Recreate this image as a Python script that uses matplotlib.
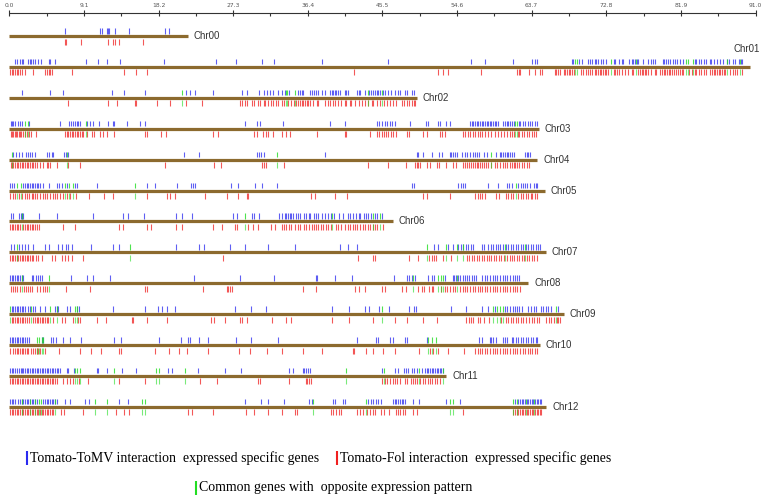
import numpy as np
import matplotlib
matplotlib.use("Agg")
import matplotlib.pyplot as plt

# ------------------------------------------------------------
# Data (positions in Mb)
# ------------------------------------------------------------
chrom_names = ["Chr00", "Chr01", "Chr02", "Chr03", "Chr04", "Chr05", "Chr06",
               "Chr07", "Chr08", "Chr09", "Chr10", "Chr11", "Chr12"]
chrom_lengths = [21.8, 90.3, 49.7, 64.6, 64.4, 65.3, 46.8, 65.4, 63.3, 67.6, 64.7, 53.3, 65.5]

ruler_ticks = [0.0, 9.1, 18.2, 27.3, 36.4, 45.5, 54.6, 63.7, 72.8, 81.9, 91.0]
ruler_labels = ["0.0", "9.1", "18.2", "27.3", "36.4", "45.5", "54.6", "63.7", "72.8", "81.9", "91.0"]

blue_00 = [6.8, 11.1, 11.3, 11.9, 12.0, 12.2, 12.9, 14.6, 19.0, 19.5]
red_00 = [6.8, 6.9, 8.7, 12.0, 12.7, 12.9, 13.4, 16.3]
green_00 = []

blue_01 = [0.7, 0.9, 1.3, 1.5, 1.7, 2.3, 2.5, 2.7, 2.9, 3.1, 3.5, 3.9, 4.8, 5.0, 5.6, 9.4, 10.8, 11.9,
           13.5, 18.9, 25.2, 27.7, 30.8, 32.3, 38.1, 46.2, 56.3, 58.0, 61.4, 63.8, 64.1, 64.3, 68.6,
           68.8, 69.5, 69.8, 70.6, 70.8, 71.1, 71.4, 71.6, 71.8, 72.2, 72.4, 72.8, 73.7, 73.9, 74.3,
           74.7, 74.9, 75.6, 75.9, 76.1, 76.3, 76.5, 76.7, 77.3, 77.9, 78.2, 78.5, 78.7, 79.7, 79.9,
           80.1, 80.3, 80.6, 80.9, 81.2, 81.4, 81.8, 82.1, 83.6, 83.8, 84.1, 84.4, 84.7, 85.0, 85.4,
           85.6, 85.9, 86.3, 86.7, 87.0, 87.5, 87.8, 88.3, 88.5, 89.0, 89.2, 89.4]
red_01 = [0.1, 0.3, 0.5, 0.7, 0.9, 1.1, 1.3, 1.5, 1.9, 2.9, 4.4, 4.6, 4.8, 5.0, 5.2, 7.6, 14.0, 15.5,
          16.8, 42.0, 52.3, 52.9, 53.5, 57.5, 61.9, 62.1, 62.3, 63.4, 64.1, 64.7, 65.0, 66.5, 66.7,
          66.9, 67.2, 67.6, 67.8, 68.0, 68.2, 68.4, 68.6, 68.9, 69.7, 70.0, 70.3, 70.6, 70.8, 71.1,
          71.4, 71.6, 71.8, 72.0, 72.2, 72.4, 72.6, 72.8, 73.0, 73.7, 73.9, 74.1, 74.4, 74.7, 75.1,
          75.5, 75.9, 76.1, 76.7, 76.9, 77.1, 77.3, 77.5, 77.7, 77.9, 78.3, 78.7, 78.9, 79.3, 79.6,
          79.8, 80.0, 80.2, 80.4, 80.6, 80.8, 81.0, 81.3, 81.6, 81.8, 82.0, 82.2, 82.9, 83.2, 83.6,
          83.8, 84.1, 84.4, 84.7, 85.0, 85.4, 85.7, 85.9, 86.1, 86.3, 86.5, 86.7, 86.9, 87.1, 87.3,
          87.9, 88.3, 88.5, 88.8, 89.4]
green_01 = [69.0, 69.2, 73.4, 76.4, 82.5, 82.8, 83.4, 87.5, 89.1]

blue_02 = [1.6, 5.0, 6.6, 12.5, 14.0, 16.5, 21.6, 22.0, 22.6, 24.8, 28.4, 29.0, 30.5, 31.0, 31.4,
           31.8, 32.2, 32.8, 33.2, 33.6, 34.1, 35.2, 35.45, 35.65, 35.85, 36.7, 36.9, 37.1, 37.4,
           37.7, 38.1, 38.5, 39.1, 39.3, 39.5, 39.7, 39.9, 40.1, 40.3, 40.9, 41.1, 41.3, 42.4, 42.6,
           42.8, 43.4, 43.9, 44.1, 44.3, 44.6, 44.8, 45.0, 45.2, 45.6, 45.8, 46.2, 46.6, 47.0, 47.4,
           47.7, 48.3, 48.5, 49.1, 49.3]
red_02 = [7.2, 12.0, 13.1, 15.3, 15.5, 18.0, 19.6, 21.55, 23.5, 28.1, 28.4, 28.7, 29.0, 29.6, 29.8,
          30.3, 30.6, 31.0, 31.2, 31.5, 31.9, 32.2, 32.5, 32.8, 33.2, 33.5, 34.0, 34.4, 34.7, 35.0,
          35.25, 35.45, 35.65, 35.85, 36.06, 36.26, 36.46, 36.67, 37.07, 37.48, 37.68, 38.5, 38.9,
          39.1, 39.5, 39.7, 40.1, 40.5, 40.9, 41.1, 41.5, 41.7, 42.2, 42.6, 43.0, 43.4, 43.8, 44.2,
          44.4, 44.8, 45.2, 45.7, 46.0, 46.4, 46.8, 47.2, 47.85, 48.1, 48.5, 48.8, 49.1, 49.3, 49.5]
green_02 = [21.1, 33.7, 33.9, 34.8, 43.7, 45.4]

blue_03 = [0.17, 0.33, 0.5, 0.66, 1.1, 1.3, 1.5, 2.45, 6.2, 7.3, 7.5, 7.8, 8.0, 8.2, 8.4, 8.6, 9.5,
           9.85, 10.25, 10.9, 12.0, 12.6, 12.8, 14.4, 15.9, 16.5, 28.7, 30.25, 30.6, 33.4, 39.1, 40.9,
           44.8, 45.1, 45.4, 45.8, 46.1, 46.4, 46.7, 47.0, 48.9, 50.8, 51.1, 52.3, 52.5, 53.3, 53.8,
           56.2, 56.4, 56.6, 56.8, 57.0, 57.2, 57.4, 57.6, 57.8, 58.0, 58.2, 58.4, 58.6, 58.8, 59.0,
           59.2, 59.4, 59.6, 60.2, 60.45, 60.65, 60.85, 61.05, 61.3, 61.5, 62.1, 62.3, 62.6, 62.9,
           63.2, 63.5, 63.8, 64.1, 64.3]
red_03 = [0.17, 0.33, 0.5, 0.66, 0.82, 0.98, 1.15, 1.3, 1.47, 1.63, 1.96, 2.12, 2.37, 2.61, 3.26,
          6.8, 7.0, 7.2, 7.4, 7.6, 7.8, 8.0, 8.2, 8.4, 8.6, 8.83, 9.03, 9.5, 10.05, 10.33, 11.07,
          11.47, 11.96, 12.8, 16.5, 16.76, 18.46, 19.1, 24.9, 25.5, 29.8, 30.25, 30.98, 31.3, 31.6,
          32.1, 33.2, 33.7, 34.2, 37.5, 40.9, 41.1, 44.0, 44.8, 45.1, 45.4, 45.7, 45.9, 46.2, 46.5,
          46.8, 47.2, 48.5, 48.7, 50.5, 50.9, 52.5, 52.8, 53.1, 55.3, 55.6, 55.9, 56.2, 56.5, 56.8,
          57.1, 57.4, 57.7, 58.0, 58.4, 58.8, 59.2, 59.6, 60.0, 60.3, 60.65, 61.0, 61.3, 61.5, 62.0,
          62.2, 62.5, 62.8, 63.1, 63.4, 63.7, 64.0, 64.2]
green_03 = [1.9, 2.3, 9.4, 61.7, 61.9]

blue_04 = [0.5, 0.82, 1.23, 1.55, 2.04, 2.33, 2.53, 2.73, 3.14, 4.56, 4.89, 5.17, 5.37, 6.67, 6.92,
           7.12, 21.35, 23.1, 30.2, 30.4, 30.66, 31.0, 38.5, 49.7, 49.9, 50.5, 51.5, 52.4, 52.8, 53.7,
           53.9, 54.1, 54.35, 54.55, 55.2, 55.6, 55.8, 56.2, 56.5, 56.8, 57.0, 57.3, 57.9, 58.2, 59.4,
           59.8, 60.0, 60.25, 60.45, 60.65, 60.85, 61.05, 61.3, 61.5, 62.9, 63.1, 63.3, 63.5]
red_04 = [0.17, 0.33, 0.5, 0.7, 0.9, 1.1, 1.3, 1.5, 1.7, 1.9, 2.12, 2.33, 2.53, 2.73, 2.94, 3.14,
          3.4, 3.75, 4.07, 4.56, 4.76, 4.97, 5.78, 7.2, 8.6, 19.0, 25.0, 25.8, 30.8, 31.0, 31.3, 33.5,
          43.8, 46.2, 48.4, 49.5, 49.7, 49.9, 50.1, 50.9, 51.3, 52.1, 52.4, 53.3, 54.1, 54.5, 55.3,
          55.6, 55.8, 56.0, 56.3, 56.5, 56.8, 57.0, 57.2, 57.4, 57.6, 57.9, 58.1, 58.4, 58.7, 59.2,
          59.5, 59.8, 60.2, 60.45, 60.65, 61.05, 61.3, 61.5, 61.7, 61.9, 62.2, 62.5, 62.8, 63.1, 63.4]
green_04 = [0.29, 7.0, 32.6, 58.8]

blue_05 = [0.09, 0.3, 0.58, 1.63, 1.92, 2.12, 2.33, 2.53, 2.73, 2.94, 3.14, 3.34, 3.55, 3.75, 4.07,
           4.89, 5.86, 6.1, 6.39, 7.0, 8.02, 8.3, 10.74, 16.75, 17.77, 20.4, 22.1, 22.37, 22.65, 27.0,
           27.85, 29.97, 30.78, 32.7, 49.07, 49.35, 54.76, 55.04, 55.37, 55.57, 58.4, 59.6, 60.65,
           60.98, 61.26, 62.07, 62.36, 62.6, 62.89, 63.17, 63.5, 63.99, 64.23, 64.39]
red_05 = [0.09, 0.42, 0.7, 1.23, 1.5, 1.9, 2.2, 2.45, 2.73, 2.94, 3.14, 3.42, 3.75, 4.07, 4.36, 4.64,
          4.97, 5.29, 5.58, 5.86, 6.19, 6.51, 7.08, 7.4, 8.14, 9.76, 11.55, 12.61, 16.75, 19.28, 19.6,
          20.2, 23.87, 26.5, 27.9, 28.95, 29.15, 36.75, 37.28, 39.72, 41.14, 50.5, 50.9, 53.8, 56.8,
          57.1, 57.4, 57.7, 58.0, 59.4, 59.75, 60.57, 60.85, 61.14, 61.46, 62.07, 62.36, 62.68, 63.0,
          63.3, 63.6, 63.8, 64.1, 64.4]
green_05 = [0.98, 1.39, 6.8, 7.33, 7.73, 15.3, 61.79]

blue_06 = [0.17, 0.5, 1.23, 1.39, 1.55, 1.72, 3.67, 5.78, 10.17, 13.83, 14.44, 16.47, 20.33, 21.02,
           22.24, 27.24, 27.73, 29.56, 29.89, 30.5, 32.94, 33.3, 33.6, 33.8, 34.0, 34.2, 34.4, 34.6,
           35.0, 35.2, 35.5, 35.9, 36.2, 36.5, 36.7, 37.1, 37.4, 37.7, 38.1, 38.5, 38.9, 39.2, 39.6,
           40.2, 40.7, 41.3, 41.6, 41.9, 42.3, 42.6, 42.8, 43.2, 43.5, 43.8, 44.1, 44.6, 44.9, 45.5]
red_06 = [0.09, 0.29, 0.5, 0.7, 0.9, 1.1, 1.3, 1.72, 1.92, 2.12, 2.33, 2.53, 2.73, 2.94, 3.14, 3.34,
          3.67, 6.51, 8.02, 13.38, 13.91, 16.76, 17.24, 20.33, 21.02, 24.89, 25.9, 27.53, 27.73,
          29.15, 29.76, 30.37, 31.88, 32.4, 33.2, 33.5, 33.8, 34.1, 34.4, 34.8, 35.2, 35.5, 35.9,
          36.2, 36.6, 36.9, 37.1, 37.4, 37.7, 38.0, 38.3, 38.6, 38.9, 39.2, 39.8, 40.1, 40.5, 40.9,
          41.3, 41.6, 41.9, 42.2, 42.4, 42.8, 43.1, 43.4, 43.7, 44.0, 44.3, 44.6, 44.9, 45.6]
green_06 = [1.51, 28.7, 39.4, 44.4, 45.2]

blue_07 = [0.17, 0.58, 1.23, 1.51, 1.92, 2.33, 2.94, 4.36, 4.89, 5.98, 6.39, 6.92, 7.2, 7.61, 9.93,
           12.61, 13.42, 20.29, 23.18, 23.75, 26.92, 28.75, 31.6, 34.84, 40.33, 41.34, 42.44, 51.8,
           52.3, 53.5, 54.1, 54.76, 55.04, 55.37, 55.7, 55.98, 56.26, 56.59, 57.6, 57.9, 58.4, 58.7,
           59.0, 59.35, 59.6, 59.9, 60.25, 60.57, 60.85, 61.14, 61.46, 61.79, 62.07, 62.36, 62.68,
           63.0, 63.3, 63.6, 63.9, 64.2, 64.5, 64.7]
red_07 = [0.09, 0.29, 0.5, 0.7, 0.9, 1.1, 1.3, 1.51, 1.72, 1.92, 2.12, 2.33, 2.53, 2.73, 2.94, 3.26,
          3.55, 3.95, 5.17, 5.58, 6.39, 6.8, 7.2, 7.61, 8.95, 26.03, 42.56, 44.3, 44.6, 48.8, 49.9,
          51.2, 51.5, 51.8, 52.0, 52.9, 53.9, 55.8, 56.1, 56.4, 56.7, 57.0, 57.3, 57.6, 57.9, 58.2,
          58.5, 58.8, 59.1, 59.4, 59.75, 60.0, 60.3, 60.65, 61.0, 61.26, 61.55, 61.9, 62.2, 62.5,
          62.8, 63.1, 63.4, 63.7, 64.0, 64.3]
green_07 = [0.98, 14.7, 50.9, 53.25, 54.6, 55.3, 60.5, 62.9]

blue_08 = [0.09, 0.29, 0.5, 0.7, 0.9, 1.1, 1.3, 1.51, 1.72, 2.73, 2.94, 3.26, 3.55, 3.75, 3.95, 7.49,
           9.52, 10.17, 12.28, 22.57, 28.14, 32.33, 37.4, 37.56, 39.7, 41.75, 46.95, 48.5, 48.8,
           49.07, 49.5, 51.1, 51.5, 51.8, 53.1, 54.07, 54.2, 54.5, 54.76, 54.96, 55.3, 55.57, 55.86,
           56.1, 56.4, 56.67, 56.9, 57.7, 58.0, 58.3, 58.6, 58.95, 59.23, 59.5, 59.8, 60.2, 60.45,
           60.7, 61.06, 61.38, 61.67, 61.95, 62.2]
red_08 = [0.17, 0.42, 0.7, 0.98, 1.3, 1.8, 2.04, 2.33, 2.53, 2.73, 3.42, 3.75, 4.07, 4.36, 4.64,
          6.92, 9.85, 16.55, 16.76, 23.59, 26.5, 26.7, 26.9, 27.1, 35.8, 37.4, 42.1, 42.6, 43.4,
          45.5, 45.8, 47.85, 48.4, 49.9, 50.3, 50.6, 51.2, 51.5, 51.7, 52.7, 53.1, 53.4, 53.7,
          54.07, 54.35, 54.96, 55.3, 55.57, 55.86, 56.2, 56.5, 56.8, 57.1, 57.4, 57.7, 58.0, 58.3,
          58.6, 58.95, 59.23, 59.5, 59.8, 60.2, 60.45, 60.7, 61.06, 61.38, 61.67, 61.95, 62.3]
green_08 = [1.51, 4.89, 49.27, 52.3, 52.7, 52.9, 54.6]

blue_09 = [0.29, 0.5, 0.7, 0.9, 1.1, 1.3, 1.51, 1.72, 1.92, 2.33, 2.53, 2.85, 3.14, 3.75, 4.36, 5.58,
           5.78, 5.98, 7.0, 7.41, 8.22, 8.54, 12.61, 16.55, 18.18, 18.6, 19.2, 20.2, 27.53, 29.44,
           31.27, 39.3, 41.47, 43.4, 43.9, 45.1, 46.3, 48.8, 49.4, 49.6, 53.9, 55.7, 57.6, 58.4, 59.2,
           60.45, 60.7, 61.06, 61.38, 61.67, 61.95, 62.2, 62.5, 63.3, 63.6, 64.0, 64.2, 64.9, 65.1,
           65.45, 65.7, 66.0, 66.95]
red_09 = [0.29, 0.5, 0.7, 0.9, 1.1, 1.3, 1.51, 1.72, 1.92, 2.12, 2.45, 2.94, 3.14, 3.34, 3.55, 3.75,
          3.95, 4.15, 4.36, 4.56, 4.76, 5.37, 6.39, 6.8, 7.81, 8.42, 8.63, 10.66, 11.8, 14.93, 15.13,
          16.76, 19.2, 24.6, 25.0, 26.3, 28.14, 28.34, 28.95, 32.0, 33.8, 34.4, 39.3, 41.47, 44.4,
          47.0, 48.5, 50.5, 52.1, 55.7, 56.0, 56.3, 56.6, 57.1, 57.4, 57.9, 58.5, 60.0, 60.6, 60.85,
          61.14, 61.46, 61.79, 62.07, 62.36, 62.68, 63.0, 63.4, 63.7, 64.0, 64.3, 64.6, 65.5, 65.85,
          66.1, 66.4, 66.75, 66.95, 67.2]
green_09 = [0.09, 2.61, 4.97, 5.78, 8.02, 8.22, 45.4, 59.0, 59.5, 59.8, 60.2, 66.7]

blue_10 = [0.09, 0.29, 0.5, 0.7, 0.9, 1.1, 1.3, 1.51, 1.72, 1.92, 2.12, 2.45, 3.95, 4.15, 5.05, 5.29,
           5.7, 6.6, 7.41, 8.71, 12.77, 13.58, 18.3, 20.9, 21.84, 22.04, 23.18, 24.28, 27.65, 29.44,
           32.73, 42.44, 44.7, 45.0, 46.4, 46.75, 48.25, 48.45, 50.9, 57.3, 57.6, 58.6, 58.8, 59.0,
           59.35, 60.2, 60.45, 60.7, 61.26, 61.46, 61.79, 62.07, 62.36, 62.68, 63.0, 63.3, 63.6, 63.9,
           64.2, 64.4]
red_10 = [0.09, 0.42, 0.7, 0.9, 1.1, 1.3, 1.51, 1.72, 1.92, 2.12, 2.33, 2.61, 2.94, 3.14, 3.34, 3.55,
          3.75, 4.36, 6.1, 8.63, 9.93, 11.15, 13.42, 13.58, 17.77, 19.52, 20.74, 21.72, 24.28, 28.06,
          29.36, 31.39, 33.2, 35.85, 38.1, 41.9, 42.0, 43.5, 44.3, 45.6, 47.0, 50.0, 51.3, 51.7, 52.3,
          53.5, 55.45, 56.8, 57.1, 57.4, 57.7, 58.0, 58.3, 58.6, 58.95, 59.23, 59.5, 59.8, 60.2, 60.45,
          60.7, 61.06, 61.38, 61.67, 61.95, 62.3, 62.6, 62.9, 63.2, 63.5, 63.8, 64.1, 64.3]
green_10 = [3.42, 3.67, 3.95, 4.15, 51.1, 51.5, 52.0]

blue_11 = [0.09, 0.29, 0.5, 0.7, 0.98, 1.23, 1.39, 1.51, 1.72, 1.92, 2.12, 2.33, 2.53, 2.73, 2.94,
           3.14, 3.34, 3.55, 3.75, 3.95, 4.15, 4.36, 4.56, 4.76, 4.97, 5.17, 5.37, 5.58, 5.78, 5.98,
           6.19, 7.0, 7.2, 7.9, 10.66, 10.86, 11.96, 13.7, 15.45, 19.4, 19.9, 23.06, 26.3, 28.22,
           34.15, 34.55, 35.77, 35.94, 36.2, 36.47, 36.67, 45.5, 47.0, 47.4, 48.1, 48.4, 48.66, 49.07,
           49.35, 49.68, 50.3, 50.7, 50.9, 51.1, 51.3, 51.5, 51.7, 51.9, 52.1, 52.3, 52.5, 52.7, 52.9]
red_11 = [0.09, 0.29, 0.5, 0.7, 0.9, 1.1, 1.3, 1.51, 1.72, 1.92, 2.12, 2.33, 2.53, 2.73, 2.94, 3.14,
          3.34, 3.55, 3.75, 3.95, 4.15, 4.36, 4.56, 4.76, 4.97, 5.17, 5.37, 5.58, 5.78, 6.6, 7.0, 7.41,
          7.73, 8.54, 9.64, 13.42, 16.55, 23.26, 25.37, 30.37, 30.58, 34.15, 36.2, 36.3, 36.6, 36.75,
          45.5, 45.8, 46.1, 46.4, 46.75, 47.0, 47.3, 47.6, 48.25, 48.5, 48.95, 49.2, 49.5, 49.76,
          50.1, 50.4, 50.7, 51.0, 51.3, 51.6, 51.9, 52.2, 52.5]
green_11 = [8.02, 8.3, 8.63, 12.77, 17.9, 18.3, 21.43, 41.06, 45.7, 50.0, 52.85]

blue_12 = [0.09, 0.29, 0.5, 0.7, 1.1, 1.3, 1.51, 1.72, 1.92, 2.12, 2.33, 2.53, 2.73, 2.94, 3.14, 3.34,
           4.07, 4.36, 4.56, 4.76, 4.97, 5.17, 5.37, 5.58, 5.78, 6.8, 7.41, 9.23, 9.76, 13.42, 14.52,
           28.75, 30.66, 31.6, 33.5, 36.6, 36.9, 39.5, 39.7, 40.65, 40.9, 43.8, 44.1, 44.4, 44.7,
           45.0, 45.3, 46.8, 47.0, 47.2, 47.4, 47.6, 47.85, 48.05, 48.25, 49.27, 50.0, 53.25, 54.96,
           61.67, 62.07, 62.28, 62.5, 62.68, 62.89, 63.1, 63.3, 63.5, 63.7, 63.9, 64.1, 64.3, 64.5,
           64.7, 64.9]
red_12 = [0.09, 0.29, 0.5, 0.7, 0.9, 1.1, 1.3, 1.51, 1.72, 1.92, 2.12, 2.33, 2.53, 2.73, 2.94, 3.14,
          3.34, 3.55, 3.75, 3.95, 4.15, 4.36, 4.56, 4.76, 4.97, 5.17, 5.37, 6.27, 6.67, 8.95, 13.02,
          14.0, 14.64, 21.84, 22.24, 24.89, 28.87, 29.89, 31.51, 33.2, 34.84, 35.1, 39.2, 39.5, 39.9,
          40.25, 40.5, 42.44, 42.77, 43.1, 43.66, 44.0, 44.3, 44.6, 45.3, 45.7, 46.35, 47.15, 47.4,
          47.7, 47.97, 48.25, 49.27, 49.76, 55.3, 61.46, 61.67, 61.87, 62.07, 62.28, 62.5, 62.68,
          62.89, 63.1, 63.3, 63.5, 63.7, 63.9, 64.1, 64.3, 64.5, 64.7, 64.9]
green_12 = [1.51, 2.53, 3.14, 3.67, 3.83, 5.58, 10.46, 11.96, 16.15, 16.55, 37.0, 43.5, 53.8, 54.07,
            61.46, 61.87, 63.0, 64.0]

blue_genes = [blue_00, blue_01, blue_02, blue_03, blue_04, blue_05, blue_06,
              blue_07, blue_08, blue_09, blue_10, blue_11, blue_12]
red_genes = [red_00, red_01, red_02, red_03, red_04, red_05, red_06,
             red_07, red_08, red_09, red_10, red_11, red_12]
green_genes = [green_00, green_01, green_02, green_03, green_04, green_05, green_06,
               green_07, green_08, green_09, green_10, green_11, green_12]

legend_labels = ["Tomato-ToMV interaction  expressed specific genes",
                 "Tomato-Fol interaction  expressed specific genes",
                 "Common genes with  opposite expression pattern"]

# ------------------------------------------------------------
# Styles
# ------------------------------------------------------------
BLUE = "#2a2af0"
RED = "#f02020"
GREEN = "#22dd22"
BAR = "#8c6a2e"

# ------------------------------------------------------------
# Figure: one axes, x in Mb, y in pixel rows
# ------------------------------------------------------------
fig = plt.figure(figsize=(7.66, 5.03), dpi=100)
ax = fig.add_axes([0, 0, 1, 1])
ax.set_xlim(-1.134, 92.28)
ax.set_ylim(503, 0)
ax.axis("off")

# ruler on top
ruler_y = 12.5
ax.hlines(ruler_y, ruler_ticks[0], ruler_ticks[-1], color="#333333", lw=0.8)
ax.vlines(ruler_ticks, ruler_y - 2.5, ruler_y + 3, color="#333333", lw=0.8)
minor = (np.array(ruler_ticks[:-1]) + np.array(ruler_ticks[1:])) / 2
ax.vlines(minor, ruler_y, ruler_y + 3, color="#333333", lw=0.8)
for t, lab in zip(ruler_ticks, ruler_labels):
    ax.text(t, 5.5, lab, fontsize=4.3, color="#555555", ha="center", va="center")

# chromosomes
row0, row_step = 36, 30.9
for i, name in enumerate(chrom_names):
    y = row0 + i * row_step
    ax.hlines(y, 0, chrom_lengths[i], color=BAR, lw=2.3, zorder=3)
    ax.vlines(blue_genes[i], y - 8, y - 2.5, color=BLUE, lw=0.8, alpha=0.75)
    ax.vlines(red_genes[i], y + 2.5, y + 8.5, color=RED, lw=0.8, alpha=0.75)
    ax.vlines(green_genes[i], y - 8, y - 2.5, color=GREEN, lw=0.8, alpha=0.8)
    ax.vlines(green_genes[i], y + 2.5, y + 8.5, color=GREEN, lw=0.8, alpha=0.6)
    if name == "Chr01":
        ax.text(chrom_lengths[i] + 1.2, y - 18, name, fontsize=7, color="#333333",
                ha="right", va="center", family="Liberation Sans")
    else:
        ax.text(chrom_lengths[i] + 0.7, y, name, fontsize=7, color="#333333",
                ha="left", va="center", family="Liberation Sans")

# legend
legend_colors = [BLUE, RED, GREEN]
legend_x = [2.16, 39.96, 22.8]
legend_y = [458, 458, 488]
for lab, c, lx, ly in zip(legend_labels, legend_colors, legend_x, legend_y):
    ax.vlines(lx, ly - 7, ly + 7, color=c, lw=1.5)
    ax.text(lx + 0.35, ly, lab, fontsize=10, family="Liberation Serif",
            ha="left", va="center", color="black")

fig.savefig("out.png", dpi=100, facecolor="white")
